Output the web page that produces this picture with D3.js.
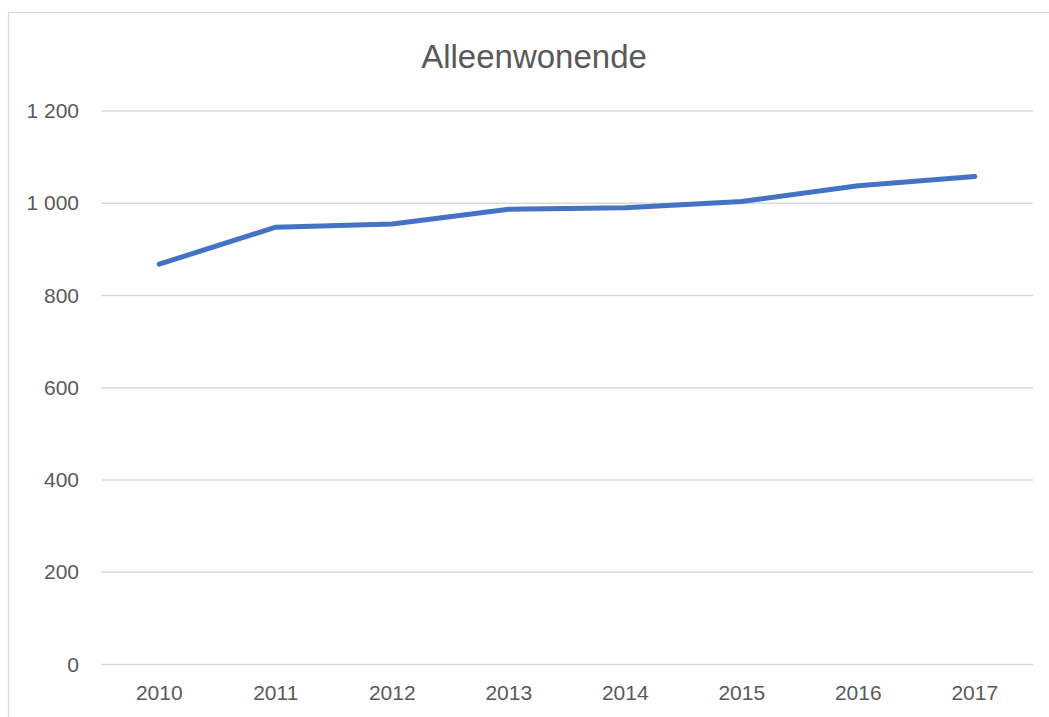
<!DOCTYPE html>
<html><head><meta charset="utf-8">
<script src="https://cdn.jsdelivr.net/npm/d3@7"></script>
<style>
html,body{margin:0;padding:0;background:#fff;}
svg{display:block;font-family:"Liberation Sans",Arial,sans-serif;}
</style></head>
<body><svg id="c" width="1049" height="717"></svg>
<script>
const title = "Alleenwonende";
const years = ["2010","2011","2012","2013","2014","2015","2016","2017"];
const values = [868, 948, 955, 987, 990, 1004, 1038, 1058];
const yTicks = [0, 200, 400, 600, 800, 1000, 1200];

const svg = d3.select("#c");
const W = 1049, H = 717;
const m = {left: 101, right: 1033, top: 111, bottom: 664.5};

// chart border
svg.append("rect").attr("x", 8.5).attr("y", 12.5).attr("width", 1100).attr("height", 800)
  .attr("fill", "none").attr("stroke", "#d9d9d9").attr("stroke-width", 1.2);

const x = d3.scaleBand().domain(years).range([m.left, m.right]).padding(0);
const y = d3.scaleLinear().domain([0, 1200]).range([m.bottom, m.top]);

const fmt = v => d3.format(",")(v).replace(/,/g, " ");

// gridlines
svg.append("g").selectAll("line").data(yTicks).join("line")
  .attr("x1", m.left).attr("x2", m.right)
  .attr("y1", d => y(d)).attr("y2", d => y(d))
  .attr("stroke", "#d9d9d9").attr("stroke-width", 1.3);

// y labels
const yAxis = d3.axisLeft(y).tickValues(yTicks).tickFormat(fmt).tickSize(0).tickPadding(0);
const gy = svg.append("g").attr("transform", `translate(79,0)`).call(yAxis);
gy.select(".domain").remove();
gy.selectAll("text").attr("font-size", 21).attr("fill", "#595959")
  .attr("font-family", "Liberation Sans, Arial, sans-serif");

// x labels
const xAxis = d3.axisBottom(x).tickSize(0).tickPadding(0);
const gx = svg.append("g").attr("transform", `translate(0,${m.bottom + 21})`).call(xAxis);
gx.select(".domain").remove();
gx.selectAll("text").attr("font-size", 21).attr("fill", "#595959")
  .attr("font-family", "Liberation Sans, Arial, sans-serif");

// line
const line = d3.line().x((d, i) => x(years[i]) + x.bandwidth() / 2).y(d => y(d));
svg.append("path").datum(values).attr("d", line)
  .attr("fill", "none").attr("stroke", "#4472C4").attr("stroke-width", 5)
  .attr("stroke-linejoin", "round").attr("stroke-linecap", "round");

// title
svg.append("text").attr("x", 534).attr("y", 68).attr("text-anchor", "middle")
  .attr("font-size", 33).attr("fill", "#595959").text(title);
</script></body></html>
